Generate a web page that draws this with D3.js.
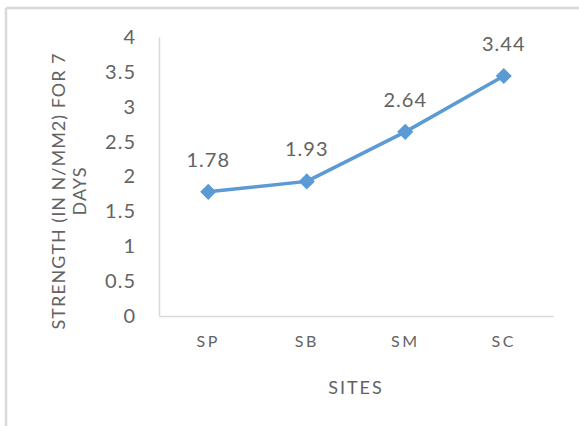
<!DOCTYPE html>
<html>
<head>
<meta charset="utf-8">
<script src="https://cdn.jsdelivr.net/npm/d3@7"></script>
<style>
  html, body { margin: 0; padding: 0; background: #fff; }
  svg { display: block; }
  text { font-family: Lato, "Open Sans", sans-serif; fill: #636363; }
</style>
</head>
<body>
<script>
// Compressive strength after 7 days, per site
const sites = ["SP", "SB", "SM", "SC"];
const strength = [1.78, 1.93, 2.64, 3.44];
const yTicks = [0, 0.5, 1, 1.5, 2, 2.5, 3, 3.5, 4];
const yTitleLines = ["STRENGTH (IN N/MM2) FOR 7", "DAYS"];
const xTitle = "SITES";

const W = 579, H = 426;
const plot = { left: 159, right: 553, top: 37, bottom: 316 };
const textColor = "#636363";

const svg = d3.select("body").append("svg")
  .attr("width", W).attr("height", H);

// chart frame (top and left edges)
svg.append("line").attr("x1", 6).attr("y1", 8).attr("x2", W).attr("y2", 8)
  .attr("stroke", "#d9d9d9").attr("stroke-width", 2.5);
svg.append("line").attr("x1", 6).attr("y1", 8).attr("x2", 6).attr("y2", H)
  .attr("stroke", "#d9d9d9").attr("stroke-width", 2.5);

const x = d3.scaleBand().domain(sites).range([plot.left, plot.right]);
const y = d3.scaleLinear().domain([0, 4]).range([plot.bottom, plot.top]);

// y axis
const yAxis = svg.append("g")
  .attr("transform", `translate(${plot.left},0)`)
  .call(d3.axisLeft(y).tickValues(yTicks).tickSize(0).tickPadding(23)
    .tickFormat(d3.format("")));
yAxis.select(".domain").attr("stroke", "#d9d9d9").attr("stroke-width", 1.5);
yAxis.selectAll("text").style("font-size", "20px").attr("fill", textColor)
  .style("letter-spacing", "1px").style("font-family", "Lato, sans-serif");

// x axis
const xAxis = svg.append("g")
  .attr("transform", `translate(0,${plot.bottom})`)
  .call(d3.axisBottom(x).tickSize(0).tickPadding(20));
xAxis.select(".domain").attr("stroke", "#d9d9d9").attr("stroke-width", 1.5);
xAxis.selectAll("text").style("font-size", "16px").attr("fill", textColor)
  .style("letter-spacing", "2.5px").style("font-family", "Lato, sans-serif");

// axis titles
svg.append("text")
  .attr("x", (plot.left + plot.right) / 2).attr("y", 394)
  .attr("text-anchor", "middle").style("font-size", "18px")
  .style("letter-spacing", "2px")
  .text(xTitle);

const yt = svg.append("text")
  .attr("transform", "translate(59,191) rotate(-90)")
  .attr("text-anchor", "middle").style("font-size", "18px")
  .style("letter-spacing", "1px");
yTitleLines.forEach((t, i) => {
  yt.append("tspan").attr("x", 0).attr("dy", i === 0 ? "0.35em" : "21px").text(t);
});

// series line
const cx = d => x(d) + x.bandwidth() / 2;
const pts = sites.map((s, i) => [cx(s), y(strength[i])]);
svg.append("path")
  .attr("d", d3.line()(pts))
  .attr("fill", "none").attr("stroke", "#5b9bd5")
  .attr("stroke-width", 3.5).attr("stroke-linejoin", "round");

// diamond markers
svg.selectAll("path.marker").data(pts).join("path")
  .attr("class", "marker")
  .attr("transform", d => `translate(${d[0]},${d[1]}) rotate(45)`)
  .attr("d", d3.symbol(d3.symbolSquare, 130)())
  .attr("fill", "#5b9bd5");

// value labels
svg.selectAll("text.val").data(sites).join("text")
  .attr("class", "val")
  .attr("x", d => cx(d))
  .attr("y", (d, i) => y(strength[i]) - 25)
  .attr("text-anchor", "middle").style("font-size", "20px")
  .style("letter-spacing", "1px")
  .text((d, i) => strength[i].toFixed(2));
</script>
</body>
</html>
